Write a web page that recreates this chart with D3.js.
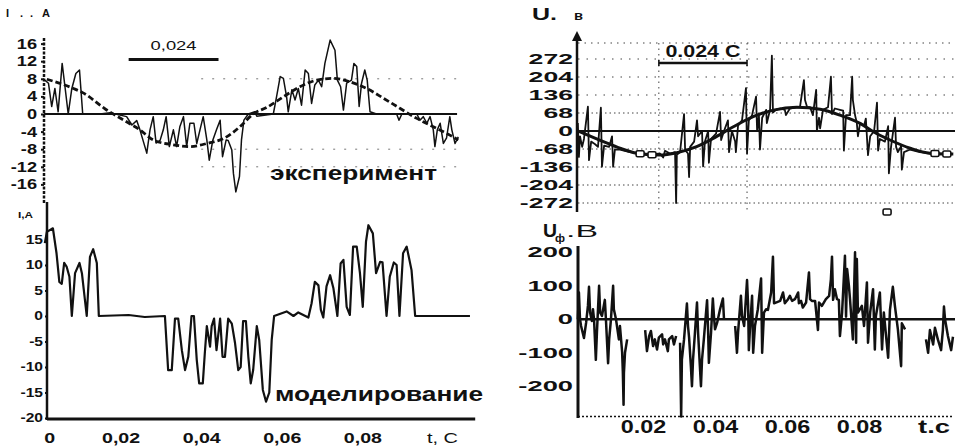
<!DOCTYPE html>
<html>
<head>
<meta charset="utf-8">
<script src="https://cdn.jsdelivr.net/npm/d3@7"></script>
<style>
  body { margin: 0; background: #fff; }
  svg { display: block; }
  text { font-family: "Liberation Sans", Arial, sans-serif; fill: #111; }
</style>
</head>
<body>
<div id="chart"></div>
<script>
// time in ms

// top left: measured current, I (A)
const currentExp = [[1.2,7.7],[2.1,7],[2.9,1.7],[3.7,5.8],[4.5,0.5],[5.5,11.5],[6.2,6.2],[7.0,0],[7.9,5.8],[8.9,9.2],[9.8,10],[10.6,0],[14.9,0],[17.4,0.3],[21.5,-0.6],[22.8,-2.5],[24.0,-1.5],[24.8,-3.6],[26.5,-8.9],[27.3,-3.6],[28.1,-0.6],[28.8,-6.6],[29.8,-6],[30.6,-3.6],[31.3,-0.6],[32.1,-7.4],[33.1,-3.6],[33.9,-7.4],[34.7,-2.9],[35.6,-0.6],[36.4,-7.4],[37.2,-2.1],[38.2,-2.1],[38.9,-6.7],[39.7,-3.6],[40.5,-0.6],[41.4,-5.9],[42.0,-10.5],[42.9,-5.9],[43.8,-3.6],[44.7,-1.4],[45.3,-9.7],[46.2,-5.9],[46.7,-6],[47.6,-8.2],[48.0,-13.5],[48.6,-17.7],[49.5,-14.2],[50.0,-5.9],[50.6,-1.4],[51.7,0],[53.3,0.5],[53.8,-0.5],[57.9,0],[58.7,3.9],[59.6,8.5],[60.4,8.1],[61.2,3.9],[61.6,0.5],[62.5,5.5],[63.3,3.2],[64.1,5.8],[64.9,2],[65.8,10],[66.6,9.2],[67.4,2.4],[68.2,6.6],[69.1,7.7],[69.9,6.2],[70.7,11.5],[72.0,16.8],[73.2,14.5],[73.8,7.7],[74.6,6.2],[75.3,0.9],[76.1,7],[77.3,7.7],[77.9,11.5],[78.6,10.8],[79.2,1.7],[79.8,7],[80.6,10],[81.2,7.7],[81.9,0.5],[83.5,0],[88.5,0],[89.1,-1.4],[89.8,0],[93.5,0],[94.3,-1.4],[95.1,-0.6],[96.0,-2.1],[96.8,-0.6],[97.6,-3.6],[98.0,-7.4],[98.6,-3.6],[99.3,-2.1],[100.1,-6.7],[100.9,-5.4],[101.7,-0.6],[102.2,-3.6],[103.0,-6.7],[103.8,-5.2]];
const currentFit = [[1.7,7.9],[8.3,5.8],[10.7,4.8],[16.1,1.2],[22.3,-2.2],[24.8,-3.6],[28.1,-5.9],[33.1,-7],[37.2,-7.4],[41.4,-6.7],[46.3,-5.2],[49.6,-2.9],[52.9,0],[56.3,1.5],[60.4,3.9],[64.5,6.2],[68.7,7.7],[72.8,8.1],[76.9,7.3],[81.1,5.8],[85.2,3.6],[89.3,1.3],[93.5,-1],[97.6,-2.9],[101.7,-4.8],[103.8,-5.9]];

// bottom left: simulated current, I (A)
const currentModel = [[1.2,14.3],[1.7,16.5],[3.2,17.2],[4.1,12.3],[4.8,6.7],[5.4,6.3],[6.0,10.4],[6.6,9.7],[7.3,7.7],[7.9,0],[8.7,8.4],[9.8,10.4],[10.4,8.4],[11.6,0],[12.4,11.6],[13.2,13.1],[14.1,10.4],[14.6,0],[22.0,0.2],[26.0,-0.2],[31.0,0],[31.8,-10.6],[32.7,-10.6],[33.5,-0.5],[34.3,-0.5],[35.2,-6.7],[36.0,-10.6],[36.8,-8],[37.6,0],[38.2,0],[38.9,-8.6],[39.5,-13.2],[40.4,-13.2],[40.9,-7.3],[41.4,-2],[42.2,-6],[42.6,-2],[43.2,-0.5],[43.8,-6.7],[44.7,-0.5],[45.3,-8],[45.9,-8],[46.7,-0.5],[47.6,-1.5],[48.4,-5.3],[49.2,-10.6],[49.8,-10],[50.4,-1],[51.1,-1],[51.7,-8],[52.3,-13.2],[52.9,-10.6],[53.8,-2],[54.4,-4.7],[55.3,-14.5],[56.1,-16.8],[56.9,-15],[57.5,-4.7],[58.1,0],[61.2,0.9],[62.9,0],[64.1,0.7],[66.6,-0.3],[67.4,2.5],[68.2,6.7],[69.1,6],[69.7,1.2],[70.3,-0.3],[71.1,5.8],[72.0,8],[72.8,5.5],[73.8,0],[74.6,10.3],[75.3,11],[76.1,1.8],[76.9,0.2],[77.7,13.6],[78.6,13.6],[79.4,8.4],[80.1,1.8],[80.9,14.6],[81.5,17.8],[82.6,16.2],[83.4,8.4],[84.4,10.6],[85.0,10.5],[86.0,0],[86.8,7.7],[87.8,10.5],[88.5,10],[89.2,0],[90.1,12.3],[91.0,13.6],[92.2,9],[93.1,0],[106.7,0]];

// top right: measured voltage, U (V)
const voltageExp = [[1.9,30],[2.2,-98],[2.5,-20],[3.1,-60],[3.6,-30],[4.7,92],[5.0,-110],[5.6,-40],[6.7,-50],[7.5,-60],[8.3,88],[8.6,-135],[9.2,-55],[10.6,-60],[11.4,-20],[11.7,-135],[12.2,-70],[13.6,-70],[16.4,-80],[19.2,-85],[21.9,-90],[24.7,-85],[25.6,-100],[26.1,-75],[27.5,-85],[28.9,-80],[29.2,-272],[29.4,-90],[30.3,-80],[31.4,64],[31.7,-72],[32.5,-85],[32.8,-174],[33.1,-60],[34.2,-40],[35.0,40],[35.3,-20],[36.4,0],[36.7,-134],[37.2,-40],[38.1,0],[38.3,-120],[38.9,-30],[40.3,-10],[41.4,72],[41.7,-34],[42.5,0],[43.6,40],[43.9,-80],[44.7,0],[45.6,-40],[45.8,-80],[46.4,20],[47.5,40],[48.6,162],[48.9,-85],[49.4,40],[50.3,60],[51.4,130],[51.7,0],[52.2,60],[52.5,-70],[53.1,50],[54.2,80],[54.4,30],[55.3,80],[55.8,285],[56.1,70],[56.9,80],[58.1,85],[59.4,80],[59.7,60],[60.8,85],[62.2,88],[63.6,90],[64.7,192],[65.0,117],[65.6,90],[66.4,90],[67.2,60],[68.1,155],[68.3,0],[68.9,50],[69.2,10],[70.0,80],[71.4,90],[72.2,205],[72.5,64],[73.3,85],[74.7,80],[75.6,77],[75.8,-74],[76.4,60],[77.5,60],[78.1,205],[78.3,117],[78.9,60],[79.4,30],[79.7,-20],[80.3,30],[81.4,20],[81.9,47],[82.5,-91],[83.1,-20],[84.2,0],[85.0,107],[85.3,-74],[85.8,-30],[87.2,-40],[88.1,18],[88.3,-160],[88.9,-60],[90.0,50],[90.3,-60],[90.8,-80],[91.7,-57],[91.9,-146],[92.5,-80],[94.2,-70],[96.9,-80],[99.7,-85],[102.5,-88],[106.1,-87]];
const voltageFit = [[2.0,0],[9.0,-40],[13.6,-65],[18.3,-84],[24.7,-91],[29.4,-82],[34.9,-59],[39.5,-28],[45.1,16],[50.6,54],[56.2,79],[62.7,90],[69.2,82],[74.7,60],[80.3,29],[84.0,-3],[88.6,-34],[94.2,-65],[99.7,-84],[106.2,-87]];
const voltageMarks = [[19.2,-86],[22.5,-90],[101.1,-85],[104.4,-87],[87.8,-306]];

// bottom right: phase voltage, Uф (V); null = gap in the trace
const phaseVoltage = [[1.9,0],[2.2,80],[2.5,0],[2.8,-20],[3.6,-56],[4.2,-10],[4.7,40],[5.0,97],[5.3,20],[5.8,-5],[6.1,30],[6.4,0],[6.9,-121],[7.2,-40],[7.8,100],[8.1,20],[8.6,10],[9.4,58],[9.7,0],[10.3,-131],[10.6,-60],[11.1,0],[11.7,100],[11.9,30],[12.5,0],[13.3,-60],[13.6,-20],[14.2,-97],[14.4,-157],[14.6,-255],[14.7,-160],[15.0,-100],[15.6,-60],[16.0,null],[20.6,-32],[21.1,-95],[21.7,-50],[22.2,-35],[22.8,-80],[23.3,-60],[23.9,-90],[24.4,-55],[25.3,-45],[25.6,-75],[26.1,-60],[26.9,-95],[27.2,-60],[28.1,-50],[28.6,-75],[29.2,-50],[29.6,null],[30.3,-70],[30.6,-290],[30.8,-120],[31.4,-60],[32.2,47],[32.5,-20],[32.8,-54],[33.3,-140],[33.6,-200],[33.9,-120],[34.4,-45],[35.0,50],[35.3,-40],[35.8,-140],[36.1,-200],[36.4,-120],[36.9,-60],[37.8,57],[38.1,-40],[38.3,-130],[38.9,-40],[39.4,62],[39.7,10],[40.0,-30],[40.6,-10],[41.4,30],[42.2,62],[42.5,0],[43.0,null],[45.6,-20],[46.1,-100],[46.4,-40],[47.2,70],[47.5,10],[48.1,-20],[48.9,117],[49.2,40],[49.4,-92],[49.7,-30],[50.3,70],[50.6,-100],[51.1,-20],[51.9,30],[52.8,122],[53.1,-100],[53.6,20],[54.2,30],[54.7,28],[55.6,80],[56.1,187],[56.4,48],[56.9,50],[58.1,55],[58.9,80],[59.4,48],[60.3,60],[60.8,70],[61.4,55],[62.2,60],[63.1,80],[63.3,48],[63.9,55],[64.4,35],[65.3,50],[66.1,140],[66.4,60],[66.9,55],[67.8,55],[68.6,-32],[68.9,50],[69.7,40],[70.8,60],[71.7,70],[72.2,120],[72.5,187],[72.8,58],[73.3,90],[73.9,60],[74.4,58],[74.7,-50],[75.3,20],[76.1,190],[76.4,8],[76.7,150],[77.2,100],[77.5,60],[78.3,-60],[78.9,200],[79.2,-70],[79.4,180],[79.7,20],[80.8,40],[81.4,-20],[82.2,110],[82.5,-70],[83.1,20],[83.9,90],[84.4,-90],[84.7,10],[85.8,80],[86.4,-90],[86.9,20],[88.1,-115],[88.6,28],[89.4,97],[90.0,38],[90.8,-30],[91.7,-140],[91.9,-12],[92.8,-30],[93.5,null],[98.6,-60],[99.2,-100],[99.7,-32],[100.6,-75],[101.1,-25],[101.9,-60],[102.8,-92],[103.3,-32],[103.6,38],[103.9,0],[104.7,-50],[105.6,-92],[106.1,-52]];

// tick values
const ticksCurExp = [16, 12, 8, 4, 0, -4, -8, -12, -16];
const ticksCurModel = [15, 10, 5, 0, -5, -10, -15, -20];
const ticksVolt = [272, 204, 136, 68, 0, -68, -136, -204, -272];
const ticksPhase = [200, 100, 0, -100, -200];
const ticksTimeL = [0, 20, 40, 60, 80];
const ticksTimeR = [20, 40, 60, 80];
const barLeft = [22, 44.3];   // "0,024" bar as drawn
const barRight = [24.4, 48.9]; // "0.024 C" bar as drawn

const width = 961, height = 446;
const svg = d3.select('#chart').append('svg')
  .attr('width', width).attr('height', height)
  .style('background', '#fff');

// scales
const xL = d3.scaleLinear().domain([0, 108]).range([40, 475.2]);
const xR = d3.scaleLinear().domain([0, 106]).range([571, 952.6]);
const yA = d3.scaleLinear().domain([-16, 16]).range([184.4, 43.6]);
const yB = d3.scaleLinear().domain([-20, 15]).range([418, 239.5]);
const yC = d3.scaleLinear().domain([-272, 272]).range([203, 59]);
const yD = d3.scaleLinear().domain([-200, 200]).range([386.3, 252.3]);

const ink = '#111';

const hline = (x1, x2, y, w, dash) => svg.append('line')
  .attr('x1', x1).attr('x2', x2).attr('y1', y).attr('y2', y)
  .attr('stroke', ink).attr('stroke-width', w).attr('stroke-dasharray', dash || null);
const vline = (x, y1, y2, w, dash) => svg.append('line')
  .attr('x1', x).attr('x2', x).attr('y1', y1).attr('y2', y2)
  .attr('stroke', ink).attr('stroke-width', w).attr('stroke-dasharray', dash || null);

function label(x, y, txt, size, len, weight, anchor) {
  const t = svg.append('text').attr('x', x).attr('y', y).text(txt)
    .attr('font-size', size).attr('font-weight', weight || 'bold')
    .attr('text-anchor', anchor || 'start');
  if (len) t.attr('textLength', len).attr('lengthAdjust', 'spacingAndGlyphs');
  return t;
}

function yAxis(scale, x0, ticks, fs, sx, pad, tick) {
  const g = svg.append('g')
    .attr('transform', `translate(${x0},0)`)
    .call(d3.axisLeft(scale).tickValues(ticks).tickSize(tick).tickFormat(d => String(d)));
  g.attr('font-family', null).attr('font-size', null);
  g.select('.domain').remove();
  g.selectAll('.tick line').attr('stroke', ink).attr('stroke-width', 2);
  g.selectAll('.tick text')
    .attr('font-size', fs).attr('font-weight', 'bold').attr('fill', ink)
    .attr('x', -pad / sx).attr('transform', `scale(${sx},1)`);
  return g;
}

// scaling the label around its tick origin keeps it centred
function xAxis(scale, y0, ticks, fmt, fs, sx, ty, weight) {
  const g = svg.append('g')
    .attr('transform', `translate(0,${y0})`)
    .call(d3.axisBottom(scale).tickValues(ticks).tickSize(0).tickFormat(fmt));
  g.attr('font-family', null).attr('font-size', null);
  g.select('.domain').remove();
  g.selectAll('.tick text')
    .attr('font-size', fs).attr('font-weight', weight).attr('fill', ink)
    .attr('y', ty).attr('transform', `scale(${sx},1)`);
  return g;
}

const lineOf = (x, y) => d3.line()
  .defined(d => d[1] !== null)
  .x(d => x(d[0])).y(d => y(d[1]));

// ===== top left: эксперимент =====
label(6, 17, 'I', 11);
label(20, 17, '.', 11);
label(30, 17, '.', 11);
label(42, 17, 'A', 11);

// faint scan grid
[8, -8, -12].forEach(v => svg.append('line')
  .attr('x1', xL(40)).attr('x2', xL(104)).attr('y1', yA(v)).attr('y2', yA(v))
  .attr('stroke', '#777').attr('stroke-width', 1).attr('stroke-dasharray', '2,9'));

vline(44, 38, 203, 2.5, '3,1.5');
yAxis(yA, 44, ticksCurExp, 14, 1.3, 7, 3);
hline(xL(1), xL(103.5), yA(0), 2);

svg.append('path').datum(currentExp)
  .attr('d', lineOf(xL, yA))
  .attr('fill', 'none').attr('stroke', ink).attr('stroke-width', 1.5)
  .attr('stroke-linejoin', 'round');
svg.append('path').datum(currentFit)
  .attr('d', lineOf(xL, yA).curve(d3.curveMonotoneX))
  .attr('fill', 'none').attr('stroke', ink).attr('stroke-width', 2.8)
  .attr('stroke-dasharray', '6,3');

hline(xL(barLeft[0]), xL(barLeft[1]), 59.5, 3);
label((xL(barLeft[0]) + xL(barLeft[1])) / 2, 50, '0,024', 13, 46, 'normal', 'middle');
label(270, 180, 'эксперимент', 20, 167);

// ===== bottom left: моделирование =====
label(18, 218, 'I,A', 9, 15);
vline(47, 202, 420, 2.5);
hline(47, xL(108), 419, 3);
yAxis(yB, 47, ticksCurModel, 12, 1.3, 4, 2);

svg.append('path').datum(currentModel)
  .attr('d', lineOf(xL, yB))
  .attr('fill', 'none').attr('stroke', ink).attr('stroke-width', 2.2)
  .attr('stroke-linejoin', 'round');

const axL = xAxis(xL, 419, ticksTimeL,
  d => d === 0 ? '0' : (d / 1000).toFixed(2).replace('.', ','), 14, 1.4, 14, 'bold');
// the "0" label sits just right of the axis in the scan
axL.selectAll('.tick text').filter(d => d === 0).attr('x', 6.5);
label(427, 443, 't, C', 14, 31, 'normal');
label(275, 401, 'моделирование', 20, 208);

// ===== top right: U, В =====
label(532, 20, 'U.', 17, 25);
label(574, 20, 'в', 12, 9);

// dotted grid
ticksVolt.filter(v => v !== 0).forEach(v => svg.append('line')
  .attr('x1', 578).attr('x2', 955).attr('y1', yC(v)).attr('y2', yC(v))
  .attr('stroke', '#444').attr('stroke-width', 1)
  .attr('stroke-dasharray', v > 68 ? '1.5,7' : '1.5,3'));
hline(578, 955, 43, 1, '1.5,5').attr('stroke', '#444');
barRight.forEach(t => vline(xR(t), 43, 210, 1, '1.5,4').attr('stroke', '#444'));

vline(577, 36, 212, 2.5);
svg.append('path').attr('d', 'M572,41 L577,31 L582,41 Z').attr('fill', ink);
yAxis(yC, 577, ticksVolt, 14, 1.9, 4, 0);
hline(577, 955, yC(0), 2);

svg.append('path').datum(voltageExp)
  .attr('d', lineOf(xR, yC))
  .attr('fill', 'none').attr('stroke', ink).attr('stroke-width', 1.8)
  .attr('stroke-linejoin', 'round');
svg.append('path').datum(voltageFit)
  .attr('d', lineOf(xR, yC).curve(d3.curveMonotoneX))
  .attr('fill', 'none').attr('stroke', ink).attr('stroke-width', 3);
svg.append('g').selectAll('rect').data(voltageMarks).enter().append('rect')
  .attr('x', d => xR(d[0]) - 4).attr('y', d => yC(d[1]) - 3)
  .attr('width', 8).attr('height', 6).attr('rx', 1.5)
  .attr('fill', '#fff').attr('stroke', ink).attr('stroke-width', 1.6);

hline(xR(barRight[0]), xR(barRight[1]), 63, 2.5);
vline(xR(barRight[0]), 60, 66, 1.5);
vline(xR(barRight[1]), 60, 66, 1.5);
label((xR(barRight[0]) + xR(barRight[1])) / 2, 57, '0.024 C', 16, 75, 'bold', 'middle');

// ===== bottom right: Uф, В =====
label(543, 237, 'U', 18, 14);
label(555, 242, 'ф', 11, 10);
label(566, 237, '.B', 17, 32, 'normal');

vline(578, 246, 418, 3);
hline(578, 953, yD(-290), 1.5, '2,2');
yAxis(yD, 578, ticksPhase, 14, 1.95, 5, 0);
hline(578, 955, yD(0), 2.5);

svg.append('path').datum(phaseVoltage)
  .attr('d', lineOf(xR, yD))
  .attr('fill', 'none').attr('stroke', ink).attr('stroke-width', 2.5)
  .attr('stroke-linejoin', 'round');

xAxis(xR, yD(-290), ticksTimeR, d => (d / 1000).toFixed(2), 18, 1.3, 3.5, 'bold');
label(918, 433, 't.c', 18, 32);
</script>
</body>
</html>
